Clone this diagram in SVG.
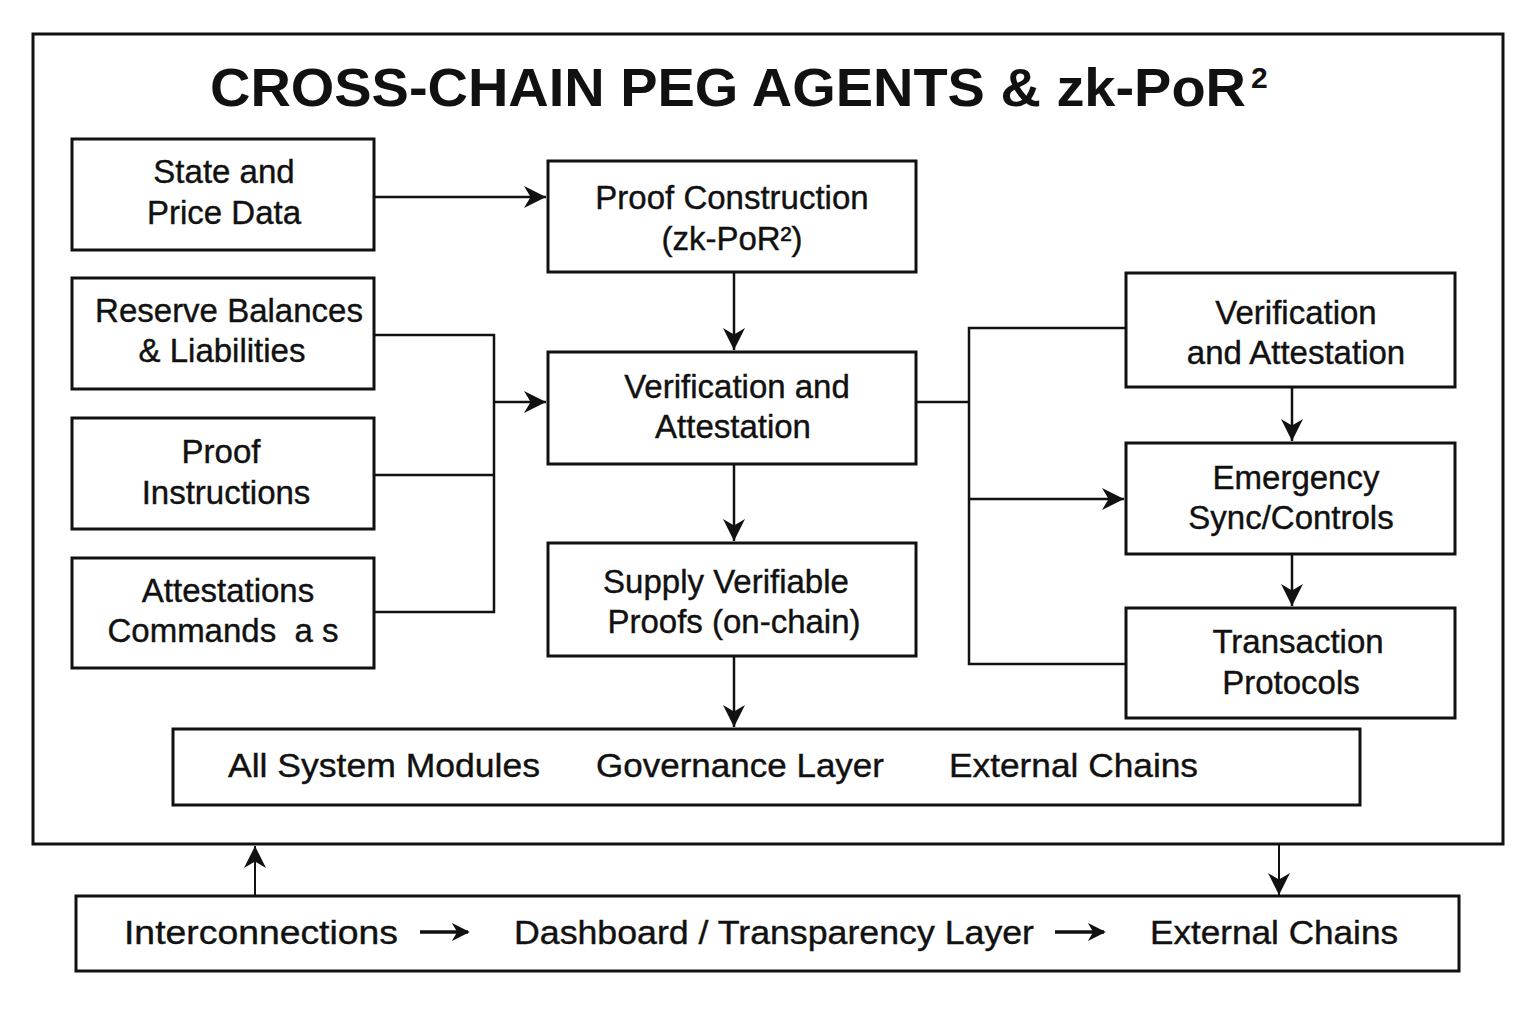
<svg xmlns="http://www.w3.org/2000/svg" width="1536" height="1024" viewBox="0 0 1536 1024">
<style>
.box{fill:#fff;stroke:#111;stroke-width:3}
.frame{fill:none;stroke:#111;stroke-width:3}
.lbl{font-family:"Liberation Sans",Arial,sans-serif;font-size:33px;fill:#111;text-anchor:middle;stroke:#111;stroke-width:0.4}
.bar{font-family:"Liberation Sans",Arial,sans-serif;font-size:33px;fill:#111;stroke:#111;stroke-width:0.4}
.title{font-family:"Liberation Sans",Arial,sans-serif;font-size:54px;font-weight:bold;fill:#111}
.con{fill:none;stroke:#111;stroke-width:2.5}
.thin{fill:none;stroke:#111;stroke-width:2}
.tarr{fill:none;stroke:#111;stroke-width:3.5}
</style>
<defs>
<marker id="ah2" viewBox="0 0 10 10" refX="10" refY="5" markerWidth="22" markerHeight="22" markerUnits="userSpaceOnUse" orient="auto">
<path d="M0,0 L10,5 L0,10 L3,5 Z" fill="#111"/>
</marker>
<marker id="ah3" viewBox="0 0 10 10" refX="9" refY="5" markerWidth="18" markerHeight="18" markerUnits="userSpaceOnUse" orient="auto">
<path d="M0,0 L10,5 L0,10 L3,5 Z" fill="#111"/>
</marker>
</defs>
<rect width="1536" height="1024" fill="#fff"/>
<rect class="frame" x="33" y="34" width="1470" height="810"/>
<text class="title" x="210" y="106" textLength="1036" lengthAdjust="spacingAndGlyphs">CROSS-CHAIN PEG AGENTS &amp; zk-PoR</text>
<text class="title" x="1251" y="88" style="font-size:30px">2</text>

<g id="connectors">
<line class="con" x1="374" y1="197" x2="546" y2="197" marker-end="url(#ah2)"/>
<line class="con" x1="734" y1="272" x2="734" y2="350" marker-end="url(#ah2)"/>
<line class="con" x1="734" y1="464" x2="734" y2="541" marker-end="url(#ah2)"/>
<line class="con" x1="734" y1="656" x2="734" y2="727" marker-end="url(#ah2)"/>
<polyline class="con" points="374,335 494,335 494,612 374,612"/>
<line class="con" x1="374" y1="475" x2="494" y2="475"/>
<line class="con" x1="494" y1="402" x2="546" y2="402" marker-end="url(#ah2)"/>
<polyline class="con" points="916,402 969,402"/>
<polyline class="con" points="1126,328 969,328 969,664 1126,664"/>
<line class="con" x1="969" y1="499" x2="1124" y2="499" marker-end="url(#ah2)"/>
<line class="con" x1="1292" y1="387" x2="1292" y2="441" marker-end="url(#ah2)"/>
<line class="con" x1="1292" y1="554" x2="1292" y2="606" marker-end="url(#ah2)"/>
<line class="thin" x1="255" y1="896" x2="255" y2="846" marker-end="url(#ah2)"/>
<line class="thin" x1="1279" y1="844" x2="1279" y2="895" marker-end="url(#ah2)"/>
</g>

<g id="state-price">
<rect class="box" x="72" y="139" width="302" height="111"/>
<text class="lbl" x="224" y="183">State and</text>
<text class="lbl" x="224" y="224">Price Data</text>
</g>
<g id="reserve">
<rect class="box" x="72" y="278" width="302" height="111"/>
<text class="lbl" x="229" y="322">Reserve Balances</text>
<text class="lbl" x="222" y="362">&amp; Liabilities</text>
</g>
<g id="proof-instr">
<rect class="box" x="72" y="418" width="302" height="111"/>
<text class="lbl" x="221" y="463">Proof</text>
<text class="lbl" x="226" y="504">Instructions</text>
</g>
<g id="attestations">
<rect class="box" x="72" y="558" width="302" height="110"/>
<text class="lbl" x="228" y="602">Attestations</text>
<text class="lbl" x="223" y="642" style="white-space:pre">Commands  a s</text>
</g>
<g id="proof-construction">
<rect class="box" x="548" y="161" width="368" height="111"/>
<text class="lbl" x="732" y="209">Proof Construction</text>
<text class="lbl" x="732" y="250">(zk-PoR²)</text>
</g>
<g id="verification-mid">
<rect class="box" x="548" y="352" width="368" height="112"/>
<text class="lbl" x="737" y="398">Verification and</text>
<text class="lbl" x="733" y="438">Attestation</text>
</g>
<g id="supply">
<rect class="box" x="548" y="543" width="368" height="113"/>
<text class="lbl" x="726" y="593">Supply Verifiable</text>
<text class="lbl" x="734" y="633">Proofs (on-chain)</text>
</g>
<g id="verification-right">
<rect class="box" x="1126" y="273" width="329" height="114"/>
<text class="lbl" x="1296" y="324">Verification</text>
<text class="lbl" x="1296" y="364">and Attestation</text>
</g>
<g id="emergency">
<rect class="box" x="1126" y="443" width="329" height="111"/>
<text class="lbl" x="1296" y="489">Emergency</text>
<text class="lbl" x="1291" y="529">Sync/Controls</text>
</g>
<g id="transaction">
<rect class="box" x="1126" y="608" width="329" height="110"/>
<text class="lbl" x="1298" y="653">Transaction</text>
<text class="lbl" x="1291" y="694">Protocols</text>
</g>
<g id="modules-bar">
<rect class="box" x="173" y="729" width="1187" height="76"/>
<text class="bar" x="228" y="777" textLength="312" lengthAdjust="spacingAndGlyphs">All System Modules</text>
<text class="bar" x="596" y="777" textLength="288" lengthAdjust="spacingAndGlyphs">Governance Layer</text>
<text class="bar" x="949" y="777" textLength="249" lengthAdjust="spacingAndGlyphs">External Chains</text>
</g>
<g id="interconnections-bar">
<rect class="box" x="76" y="896" width="1383" height="75"/>
<text class="bar" x="124" y="944" textLength="274" lengthAdjust="spacingAndGlyphs">Interconnections</text>
<line class="tarr" x1="420" y1="932" x2="468" y2="932" marker-end="url(#ah3)"/>
<text class="bar" x="514" y="944" textLength="520" lengthAdjust="spacingAndGlyphs">Dashboard / Transparency Layer</text>
<line class="tarr" x1="1055" y1="932" x2="1104" y2="932" marker-end="url(#ah3)"/>
<text class="bar" x="1150" y="944" textLength="248" lengthAdjust="spacingAndGlyphs">External Chains</text>
</g>
</svg>
